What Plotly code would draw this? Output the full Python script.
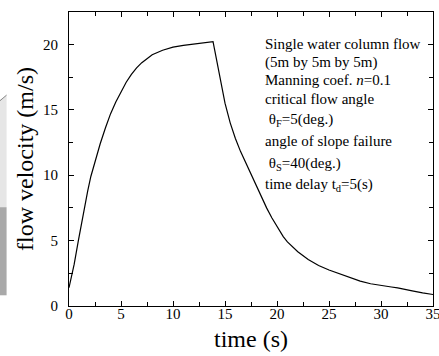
import plotly.graph_objects as go

# ---- data ----
time_s = [0, 0.25, 0.5, 0.9, 1.2, 1.45, 1.8, 2.1, 2.5, 3.0, 3.5, 4.0, 4.5, 5.0, 5.5, 6.0,
          6.5, 7.0, 8.0, 9.0, 10.0, 11.0, 12.0, 13.0, 13.85,
          14.0, 14.3, 14.55, 15.0, 15.5, 16.0, 16.5, 17.0, 17.4, 18.0, 18.5, 19.0, 19.5,
          20.0, 20.6, 21.0, 22.0, 23.0, 24.0, 25.0, 26.0, 27.0, 28.0, 29.0, 30.0, 31.0,
          31.6, 32.0, 33.0, 34.0, 35.0]
velocity = [1.4, 2.3, 3.2, 5.0, 6.3, 7.45, 8.8, 9.9, 11.1, 12.4, 13.6, 14.7, 15.6, 16.4, 17.1, 17.7,
            18.2, 18.6, 19.2, 19.55, 19.78, 19.92, 20.02, 20.12, 20.2,
            19.6, 18.3, 17.3, 15.5, 14.0, 12.8, 11.8, 10.95, 10.3, 9.2, 8.3, 7.5, 6.75,
            6.05, 5.3, 4.9, 4.15, 3.55, 3.1, 2.75, 2.45, 2.15, 1.9, 1.7, 1.55, 1.45,
            1.38, 1.3, 1.15, 1.0, 0.88]
x_ticks = [0, 5, 10, 15, 20, 25, 30, 35]
y_ticks = [0, 5, 10, 15, 20]
note_lines = [
    "Single water column flow",
    "(5m by 5m by 5m)",
    "Manning coef. <i>n</i>=0.1",
    "critical flow angle",
    "\u00a0θ<sub>F</sub>=5(deg.)",
    "angle of slope failure",
    "\u00a0θ<sub>S</sub>=40(deg.)",
    "time delay t<sub>d</sub>=5(s)",
]
# vertical centre (pixels from top) of each note line
note_y = [43.5, 62, 80, 98.5, 120, 141, 164, 185]

W, H = 439, 356
L, R, T, B = 69.3, 432.7, 12.0, 305.7
FONT = "Liberation Serif, Times New Roman, serif"


def px(X):
    return (X - L) / (R - L)


def py(Y):
    return (B - Y) / (B - T)


fig = go.Figure()
fig.add_trace(go.Scatter(x=time_s, y=velocity, mode="lines",
                         line=dict(color="black", width=1.2), showlegend=False,
                         hoverinfo="skip"))

axis_common = dict(
    showline=True, linecolor="black", linewidth=1, mirror="allticks",
    ticks="inside", ticklen=5, tickwidth=1, tickcolor="black",
    showgrid=False, zeroline=False, automargin=False,
    ticklabeloverflow="allow",
    tickfont=dict(family=FONT, size=15, color="black"),
    minor=dict(ticks="inside", ticklen=4, tickwidth=1, tickcolor="black", showgrid=False),
)

fig.update_xaxes(range=[0, 35], tickvals=x_ticks, minor_dtick=2.5, **axis_common,
                 ticklabelstandoff=-6,
                 title=dict(text="time (s)", font=dict(family=FONT, size=24, color="black"),
                            standoff=9))
fig.update_yaxes(range=[0, (B - T) / 13.07], tickvals=y_ticks, minor_dtick=2.5, **axis_common,
                 ticklabelstandoff=7,
                 title=dict(text="flow velocity (m/s)",
                            font=dict(family=FONT, size=24, color="black"), standoff=2))

# note block, one line per annotation so the line spacing matches the original
for line, yc in zip(note_lines, note_y):
    fig.add_annotation(xref="paper", yref="paper", x=px(263), y=py(yc),
                       xanchor="left", yanchor="middle", align="left", showarrow=False,
                       text=line, font=dict(family=FONT, size=15, color="black"))

# decorative grey fragment at the left edge of the picture
fig.add_shape(type="path", xref="paper", yref="paper",
              path=f"M {px(0)},{py(100)} L {px(7)},{py(95)} L {px(7)},{py(207)} L {px(0)},{py(207)} Z",
              fillcolor="#e6e6e6", line=dict(width=0), layer="below")
fig.add_shape(type="rect", xref="paper", yref="paper",
              x0=px(0), x1=px(7), y0=py(295), y1=py(207),
              fillcolor="#a9a9a9", line=dict(width=0), layer="below")
fig.add_shape(type="line", xref="paper", yref="paper",
              x0=px(0), y0=py(101), x1=px(7), y1=py(95),
              line=dict(color="#888888", width=1))

fig.update_layout(
    width=W, height=H,
    margin=dict(l=L, r=W - R, t=T, b=H - B, pad=0),
    paper_bgcolor="white", plot_bgcolor="white",
    font=dict(family=FONT, color="black"),
)

fig.write_html("out.html", config={"displayModeBar": False, "staticPlot": True},
               post_script="document.body.style.margin='0';document.body.style.padding='0';"
                           "document.body.style.overflow='hidden';")
